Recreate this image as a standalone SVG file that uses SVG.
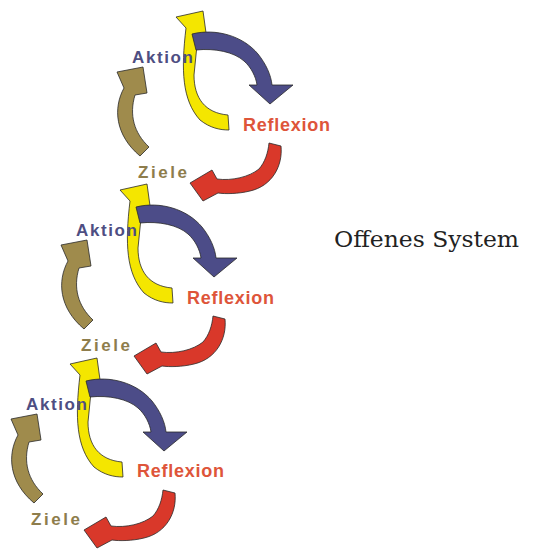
<svg xmlns="http://www.w3.org/2000/svg" xmlns:xlink="http://www.w3.org/1999/xlink" width="539" height="552" viewBox="0 0 539 552">
<style>
.arr{stroke:#2a2a2a;stroke-width:0.8;stroke-linejoin:round}
.y{fill:#f4e600}
.b{fill:#4c4c88}
.r{fill:#d9382a}
.o{fill:#9f8b4c}
.lbl{font-family:"Liberation Sans",Arial,sans-serif;font-weight:bold}
.ak{fill:#4e4e82;font-size:17px}
.re{fill:#de553a;font-size:18px}
.zi{fill:#8e7d4c;font-size:17px}
.title{font-family:"DejaVu Serif","Liberation Serif",serif;font-size:22.5px;fill:#222}
</style>
<defs>
<path id="yellow" class="arr y" d="M228,115 C205,113 194,98 194,75 L197,45 L207,40 L203,11 L176,17 L186,28 C181,70 182,100 200,120 C210,128 220,130 229,130 Z"/>
<path id="blue" class="arr b" d="M192,34 C216,28 243,36 258,54 C266,64 271,75 272,85 L293,85 L270,104 L249,85 L257,85 C256,77 251,67 244,61 C234,52 215,48 196,50 Z"/>
<path id="red" class="arr r" d="M269,143 L281,146 C283,166 272,186 250,191 C238,194 225,194 218,193 L203,201 L190,183 L212,170 L217,179 C232,181 249,177 259,169 C265,162 268,153 269,143 Z"/>
<path id="olive" class="arr o" d="M149,147 C134,133 129,115 135,95 L147,93 L143,67 L117,72 L124,88 C113,108 115,135 140,156 Z"/>
</defs>
<g id="connectors">
<g id="arrows-cycle1">
<use xlink:href="#yellow"/><use xlink:href="#blue"/><use xlink:href="#red"/><use xlink:href="#olive"/>
</g>
<g id="arrows-cycle2" transform="translate(-56,173)">
<use xlink:href="#yellow"/><use xlink:href="#blue"/><use xlink:href="#red"/><use xlink:href="#olive"/>
</g>
<g id="arrows-cycle3" transform="translate(-106,347)">
<use xlink:href="#yellow"/><use xlink:href="#blue"/><use xlink:href="#red"/><use xlink:href="#olive"/>
</g>
</g>
<g id="aktion1"><text class="lbl ak" x="132" y="63" textLength="61" lengthAdjust="spacing">Aktion</text></g>
<g id="reflexion1"><text class="lbl re" x="243" y="131" textLength="87" lengthAdjust="spacing">Reflexion</text></g>
<g id="ziele1"><text class="lbl zi" x="138" y="178" textLength="49" lengthAdjust="spacing">Ziele</text></g>
<g id="aktion2"><text class="lbl ak" x="76" y="236" textLength="61" lengthAdjust="spacing">Aktion</text></g>
<g id="reflexion2"><text class="lbl re" x="187" y="304" textLength="87" lengthAdjust="spacing">Reflexion</text></g>
<g id="ziele2"><text class="lbl zi" x="81" y="351" textLength="49" lengthAdjust="spacing">Ziele</text></g>
<g id="aktion3"><text class="lbl ak" x="26" y="410" textLength="61" lengthAdjust="spacing">Aktion</text></g>
<g id="reflexion3"><text class="lbl re" x="137" y="477" textLength="87" lengthAdjust="spacing">Reflexion</text></g>
<g id="ziele3"><text class="lbl zi" x="31" y="525" textLength="49" lengthAdjust="spacing">Ziele</text></g>
<g id="title"><text class="title" x="334" y="247" textLength="185" lengthAdjust="spacingAndGlyphs">Offenes System</text></g>
</svg>
